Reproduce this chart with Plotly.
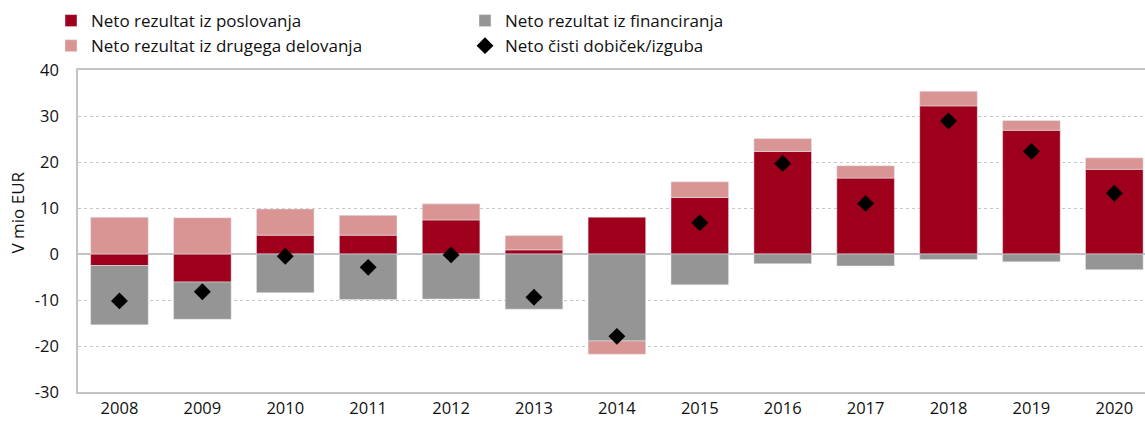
import plotly.graph_objects as go

years = ["2008", "2009", "2010", "2011", "2012", "2013", "2014",
         "2015", "2016", "2017", "2018", "2019", "2020"]
poslovanje = [-2.5, -6.1, 4.1, 4.1, 7.4, 0.9, 8.0, 12.3, 22.3, 16.5, 32.2, 26.9, 18.4]
financiranje = [-12.9, -8.1, -8.4, -9.9, -9.8, -12.0, -18.9, -6.7, -2.1, -2.6, -1.2, -1.7, -3.4]
drugega = [8.0, 7.9, 5.7, 4.3, 3.5, 3.1, -2.9, 3.4, 2.8, 2.7, 3.2, 2.1, 2.5]
dobicek = [-10.2, -8.2, -0.5, -2.9, -0.2, -9.4, -17.9, 6.8, 19.7, 11.0, 28.9, 22.3, 13.2]

names = ["Neto rezultat iz poslovanja", "Neto rezultat iz financiranja",
         "Neto rezultat iz drugega delovanja", "Neto čisti dobiček/izguba"]
tick_vals = [-30, -20, -10, 0, 10, 20, 30, 40]
tick_text = ["-30", "-20", "-10", "0", "10", "20", "30", "40"]
y_title = "V mio EUR"

RED = "#9e001c"
GRAY = "#959595"
PINK = "#d99594"
AXIS = "#c3c3c3"
FONT = "Open Sans"

fig = go.Figure()
fig.add_trace(go.Bar(x=years, y=poslovanje, name=names[0], marker_color=RED))
fig.add_trace(go.Bar(x=years, y=financiranje, name=names[1], marker_color=GRAY))
fig.add_trace(go.Bar(x=years, y=drugega, name=names[2], marker_color=PINK))
fig.add_trace(go.Scatter(x=years, y=dobicek, name=names[3], mode="markers",
                         marker=dict(symbol="diamond", size=13, color="black")))

fig.update_layout(
    width=1145, height=421,
    margin=dict(l=78, r=0, t=70, b=29, autoexpand=False),
    barmode="relative",
    bargap=0.305,
    paper_bgcolor="white", plot_bgcolor="white",
    font=dict(family=FONT, size=16, color="#111111"),
    showlegend=True,
    legend=dict(orientation="h", x=-0.0253, xanchor="left", y=1.208, yanchor="top",
                entrywidth=369, entrywidthmode="pixels",
                font=dict(family=FONT, size=17), itemwidth=30,
                tracegroupgap=0, bgcolor="rgba(0,0,0,0)"),
    annotations=[dict(text=y_title, textangle=-90, xref="paper", yref="paper",
                      x=-0.0567, y=0.556, xanchor="center", yanchor="middle",
                      showarrow=False, font=dict(family=FONT, size=17))],
)
fig.update_xaxes(
    type="category", range=[-0.5, 12.37],
    showline=True, linecolor=AXIS, linewidth=1.5, mirror=True,
    showgrid=False, ticks="", tickfont=dict(size=16.5),
)
fig.update_yaxes(
    range=[-30, 40], tickvals=tick_vals, ticktext=tick_text,
    showline=True, linecolor=AXIS, linewidth=1.5, mirror=False,
    showgrid=True, gridcolor="#c8c8c8", griddash="dot", gridwidth=1,
    zeroline=True, zerolinecolor=AXIS, zerolinewidth=1.5,
    ticks="", ticklabelstandoff=14, tickfont=dict(size=16.5),
)

fig.write_html("out.html", config={"displayModeBar": False},
               post_script="document.body.style.margin='0';document.body.style.overflow='hidden';")
